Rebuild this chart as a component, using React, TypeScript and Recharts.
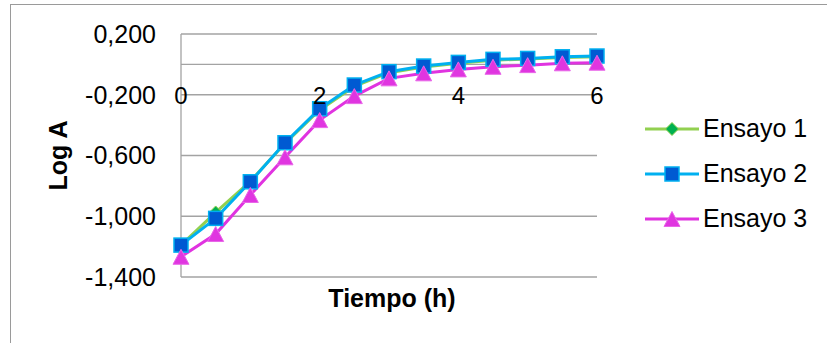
import React from 'react';
import { LineChart, Line, XAxis, YAxis, CartesianGrid, ReferenceLine, ReferenceDot, Legend, Label } from 'recharts';

const tiempo = [0, 0.5, 1, 1.5, 2, 2.5, 3, 3.5, 4, 4.5, 5, 5.5, 6];
const ensayo1 = [-1.19, -0.975, -0.77, -0.52, -0.3, -0.145, -0.055, -0.018, 0.008, 0.027, 0.036, 0.046, 0.051];
const ensayo2 = [-1.19, -1.014, -0.773, -0.516, -0.292, -0.136, -0.048, -0.011, 0.013, 0.033, 0.039, 0.05, 0.055];
const ensayo3 = [-1.267, -1.117, -0.86, -0.612, -0.367, -0.209, -0.092, -0.059, -0.033, -0.016, -0.005, 0.007, 0.011];

const xTickLabels = [0, 2, 4, 6];
const yTicks = [-1.4, -1.0, -0.6, -0.2, 0.2];
const seriesNames = ['Ensayo 1', 'Ensayo 2', 'Ensayo 3'];

const data = tiempo.map((t, i) => ({ t, e1: ensayo1[i], e2: ensayo2[i], e3: ensayo3[i] }));

const FONT = '"Liberation Sans", Arial, sans-serif';
const GRID = '#a3a3a3';

const C1_LINE = '#92D050';
const C1_FILL = '#00B050';
const C2_LINE = '#00B0F0';
const C2_FILL = '#005AD2';
const C3_LINE = '#E033E0';
const C3_FILL = '#E035E0';

const Diamond = ({ cx, cy }: { cx: number; cy: number }) => (
  <path d={`M${cx},${cy - 6.5} L${cx + 6.5},${cy} L${cx},${cy + 6.5} L${cx - 6.5},${cy} Z`} fill={C1_FILL} stroke={C1_LINE} strokeWidth={1} />
);
const Square = ({ cx, cy }: { cx: number; cy: number }) => (
  <rect x={cx - 7} y={cy - 7} width={14} height={14} fill={C2_FILL} stroke={C2_LINE} strokeWidth={1.5} />
);
const Triangle = ({ cx, cy }: { cx: number; cy: number }) => (
  <path d={`M${cx},${cy - 7.5} L${cx + 8},${cy + 7.5} L${cx - 8},${cy + 7.5} Z`} fill={C3_FILL} stroke="#E866E8" strokeWidth={1} />
);

const markers = [Diamond, Square, Triangle];
const lineColors = [C1_LINE, C2_LINE, C3_LINE];

const makeDot = (M: any) => (p: any) => {
  if (p.cx == null || p.cy == null) return <g key={`d-${p.index}`} />;
  return <M key={`d-${p.index}`} cx={p.cx} cy={p.cy} />;
};

const renderLegend = () => (
  <div style={{ display: 'flex', flexDirection: 'column' }}>
    {seriesNames.map((name, i) => {
      const M = markers[i];
      return (
        <div key={name} style={{ display: 'flex', alignItems: 'center', height: 45 }}>
          <svg width={54} height={20} style={{ display: 'block' }}>
            <line x1={0} y1={10} x2={54} y2={10} stroke={lineColors[i]} strokeWidth={3} />
            <M cx={27} cy={10} />
          </svg>
          <span style={{ marginLeft: 4, fontSize: 25, fontFamily: FONT, color: '#000', whiteSpace: 'nowrap' }}>{name}</span>
        </div>
      );
    })}
  </div>
);

const YTitle = (props: any) => {
  const vb = props.viewBox || {};
  const cx = (vb.x || 0) + 67;
  const cy = (vb.y || 0) + (vb.height || 0) / 2;
  return (
    <text x={cx} y={cy} transform={`rotate(-90, ${cx}, ${cy})`} textAnchor="middle" fontFamily={FONT} fontSize={25} fontWeight="bold" fill="#000">
      Log A
    </text>
  );
};

const XTitle = (props: any) => {
  const vb = props.viewBox || {};
  const cx = (vb.x || 0) + (vb.width || 0) / 2 + 3;
  const y = (vb.y || 0) + 30;
  return (
    <text x={cx} y={y} textAnchor="middle" fontFamily={FONT} fontSize={25} fontWeight="bold" fill="#000">
      Tiempo (h)
    </text>
  );
};

const fmt = (v: number) => v.toFixed(3).replace('.', ',');

export default function App() {
  return (
    <div style={{ position: 'absolute', left: 0, top: 0, width: 827, height: 343, overflow: 'hidden', background: '#fff' }}>
      <div style={{ position: 'absolute', left: 10, top: 4, width: 900, height: 400, border: '1.5px solid #9a9a9a', boxSizing: 'border-box' }} />
      <div style={{ position: 'absolute', left: 0, top: 0 }}>
        <LineChart width={827} height={343} data={data} margin={{ top: 34, right: 230, bottom: 6, left: 0 }}>
          <CartesianGrid horizontal vertical={false} stroke={GRID} strokeWidth={1.3} />
          <XAxis dataKey="t" type="number" domain={[0, 6]} ticks={xTickLabels} tick={false} axisLine={false} tickLine={false} height={60}>
            <Label content={<XTitle />} />
          </XAxis>
          <YAxis
            type="number"
            domain={[-1.4, 0.2]}
            ticks={yTicks}
            tickFormatter={fmt}
            width={181}
            tickSize={0}
            tickMargin={25}
            tickLine={false}
            axisLine={{ stroke: GRID, strokeWidth: 1.3 }}
            tick={{ fontSize: 25, fontFamily: FONT, fill: '#000' }}
            interval={0}
          >
            <Label content={<YTitle />} />
          </YAxis>
          <ReferenceLine y={0} stroke={GRID} strokeWidth={1.3} />
          {xTickLabels.map((t) => (
            <ReferenceDot
              key={`xl-${t}`}
              x={t}
              y={0}
              r={0}
              fill="none"
              stroke="none"
              label={{ value: String(t), position: 'bottom', offset: 23, fontSize: 24, fontFamily: FONT, fill: '#000' }}
            />
          ))}
          <Line type="linear" dataKey="e1" name={seriesNames[0]} stroke={C1_LINE} strokeWidth={3} dot={makeDot(Diamond)} activeDot={false} isAnimationActive={false} />
          <Line type="linear" dataKey="e2" name={seriesNames[1]} stroke={C2_LINE} strokeWidth={3} dot={makeDot(Square)} activeDot={false} isAnimationActive={false} />
          <Line type="linear" dataKey="e3" name={seriesNames[2]} stroke={C3_LINE} strokeWidth={3} dot={makeDot(Triangle)} activeDot={false} isAnimationActive={false} />
          <Legend layout="vertical" align="center" verticalAlign="middle" content={renderLegend} wrapperStyle={{ left: 645, top: 106, width: 190, height: 135 }} />
        </LineChart>
      </div>
    </div>
  );
}
